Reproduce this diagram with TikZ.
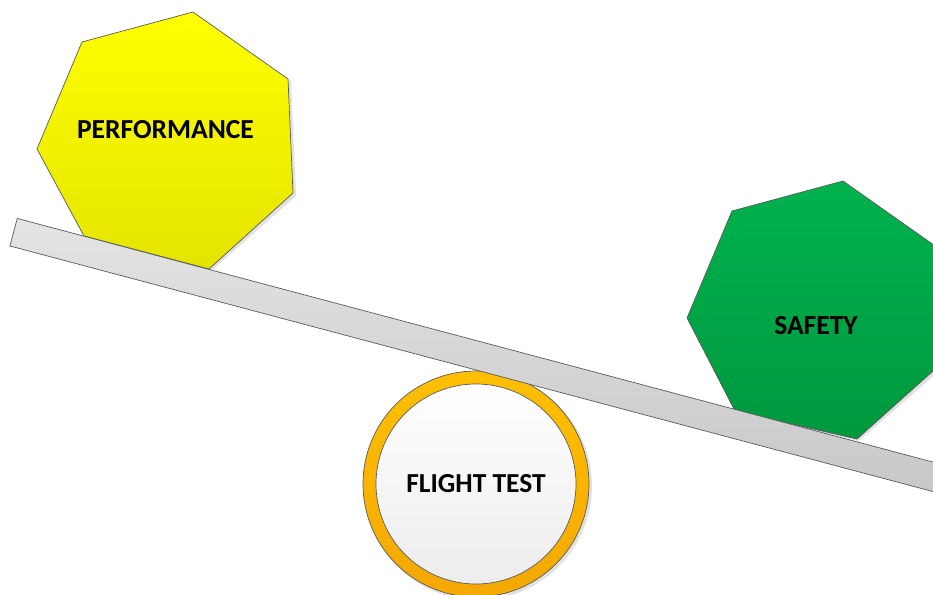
\documentclass[tikz,border=0pt]{standalone}
\usepackage{fontspec}
\setmainfont{Carlito}
\usetikzlibrary{calc}
\definecolor{yelTop}{HTML}{FFFF00}
\definecolor{yelBot}{HTML}{E4E400}
\definecolor{grnTop}{HTML}{00B24E}
\definecolor{grnBot}{HTML}{00983E}
\definecolor{orgTop}{HTML}{FFC000}
\definecolor{orgBot}{HTML}{F3A800}
\definecolor{cirTop}{HTML}{FFFFFF}
\definecolor{cirBot}{HTML}{ECECEC}
\definecolor{beamTop}{HTML}{E4E4E4}
\definecolor{beamBot}{HTML}{C4C4C4}
\definecolor{edgegray}{HTML}{5A5A5A}
\definecolor{shadowgray}{HTML}{BDBDBD}
\begin{document}
\begin{tikzpicture}[x=1pt,y=-1pt,
  lbl/.style={font=\bfseries\fontsize{27.5}{30}\selectfont, text=black, inner sep=0pt},
  outl/.style={draw=edgegray, line width=0.7pt},
  shad/.style={fill=shadowgray, opacity=0.45, draw=none}]
\useasboundingbox (0,0) rectangle (933,594);
\clip (0,0) rectangle (933,594);
% performance heptagon
\fill[shad] (195,14) -- (291,81) -- (296,196) -- (211,271) -- (86,238) -- (39,151) -- (84,44) -- cycle;
\path[outl, top color=yelTop, bottom color=yelBot]
  (193,12) -- (288,79) -- (293,193) -- (209,269) -- (84,236) -- (37,149) -- (82,42) -- cycle;
\node[lbl] (perf) at (165.5,129.5) {PERFORMANCE};
% safety heptagon
\fill[shad] (845,183) -- (941,250) -- (946,365) -- (859,441) -- (737,413) -- (689,320) -- (734,213) -- cycle;
\path[outl, top color=grnTop, bottom color=grnBot]
  (843,181) -- (938,248) -- (943,362) -- (857,439) -- (735,411) -- (687,318) -- (732,211) -- cycle;
\node[lbl] (saf) at (816,326) {SAFETY};
% flight test circle
\fill[shad] (478,486) circle[radius=114];
\node[circle, outl, top color=orgTop, bottom color=orgBot, minimum size=226pt, inner sep=0pt] (ring) at (476,484) {};
\node[circle, outl, top color=cirTop, bottom color=cirBot, minimum size=200pt, inner sep=0pt,
  font=\bfseries\fontsize{27.5}{30}\selectfont] (ft) at (ring.center) {FLIGHT TEST};
% beam
\node[rectangle, outl, top color=beamTop, bottom color=beamBot, rotate=-14.9,
  minimum width=1100pt, minimum height=28.5pt, inner sep=0pt, anchor=north west] (beam) at (17,218) {};
\end{tikzpicture}
\end{document}
